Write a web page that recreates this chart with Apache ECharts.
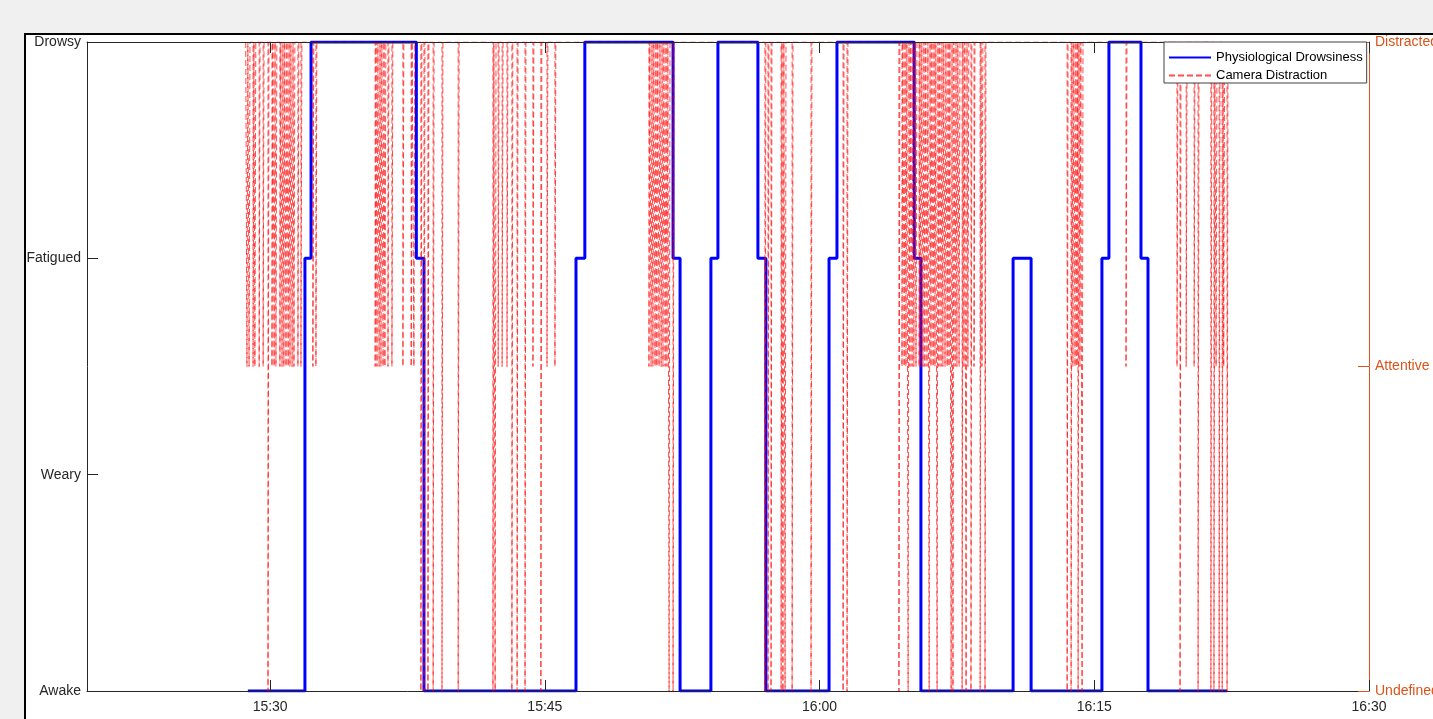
<!DOCTYPE html>
<html><head><meta charset="utf-8">
<script src="https://cdn.jsdelivr.net/npm/echarts@6/dist/echarts.min.js"></script>
<style>
html,body{margin:0;padding:0;background:#f0f0f0;overflow:hidden;}
#panel{position:absolute;left:24px;top:33px;width:1420px;height:700px;background:#fff;border-left:2px solid #000;border-top:2px solid #000;}
#chart{position:absolute;left:0;top:0;width:1433px;height:719px;}
</style></head><body>
<div id="panel"></div><div id="chart"></div>
<script>
// ---- axis ranges / tick labels ----
const xStart = '15:20', xEnd = '16:30';
const xTickLabels = ['15:30','15:45','16:00','16:15','16:30'];
const drowsyLabels = ['Awake','Weary','Fatigued','Drowsy'];
const cameraLabels = ['Undefined','Attentive','Distracted'];

// ---- Physiological Drowsiness: change points (time, new level) ----
const drowsyTimes = ['15:28:47','15:31:54','15:32:14','15:37:59','15:38:24','15:46:42','15:47:11','15:52:00','15:52:23',
  '15:54:04','15:54:27','15:56:38','15:57:04','16:00:31','16:00:57','16:05:10','16:05:32','16:10:34','16:11:33',
  '16:15:25','16:15:48','16:17:33','16:17:56','16:22:15'];
const drowsyLevels = [0,2,3,2,0,2,3,2,0, 2,3,2,0,2,3,2,0,2,0, 2,3,2,0,0];

// ---- Camera Distraction: baseline Distracted(2) with brief dips ----
const camStart = '15:28:40', camEnd = '16:22:20', camBase = 2;
const camDipSeconds = 3;
const camDipTimes = [
  // cluster ~15:29-15:32
  '15:28:44','15:28:51','15:29:04','15:29:10','15:29:24','15:29:37','15:29:53','15:30:06','15:30:13','15:30:19',
  '15:30:32','15:30:39','15:30:45','15:30:52','15:30:59','15:31:05','15:31:12','15:31:18','15:31:31','15:31:41',
  '15:32:20','15:32:30',
  // ~15:36-15:39
  '15:35:44','15:35:50','15:35:57','15:36:03','15:36:10','15:36:16','15:36:26','15:36:39','15:37:15','15:37:42',
  '15:37:51','15:38:14','15:38:24','15:38:37','15:38:54',
  // ~15:39-15:46
  '15:39:23','15:40:16','15:42:10','15:42:17','15:42:27','15:42:40','15:42:56','15:43:12','15:43:29','15:43:55',
  '15:44:21','15:44:47','15:45:07','15:45:33',
  // ~15:51
  '15:50:41','15:50:48','15:50:54','15:51:01','15:51:07','15:51:14','15:51:21','15:51:27','15:51:34','15:51:40',
  '15:51:47','15:52:00',
  // ~15:57-16:01
  '15:57:01','15:57:11','15:57:21','15:57:54','15:58:00','15:58:07','15:58:30','15:59:32','16:01:17','16:01:30',
  // ~16:04-16:09
  '16:04:20','16:04:30','16:04:37','16:04:43','16:04:50','16:04:56','16:05:03','16:05:09','16:05:16','16:05:26',
  '16:05:32','16:05:39','16:05:45','16:05:52','16:05:59','16:06:05','16:06:12','16:06:18','16:06:25','16:06:31',
  '16:06:38','16:06:44','16:06:51','16:06:58','16:07:04','16:07:11','16:07:17','16:07:24','16:07:30','16:07:37',
  '16:07:47','16:07:53','16:08:00','16:08:06','16:08:16','16:08:26','16:08:46','16:08:52','16:09:02',
  // ~16:13-16:17
  '16:13:31','16:13:44','16:13:50','16:13:57','16:14:03','16:14:07','16:14:13','16:14:20','16:16:44',
  // ~16:19-16:22
  '16:19:31','16:19:41','16:20:01','16:20:27','16:20:40','16:21:22','16:21:32','16:21:39','16:21:49','16:21:59',
  '16:22:04','16:22:15'
];
const camDipLevels = [
  1,1,1,1,1,1,0,1,1,1, 1,1,1,1,1,1,1,1,1,1, 1,1,
  1,1,1,1,1,1,1,1,1,1, 1,0,0,0,0,
  0,0,0,0,1,1,1,0,0,0, 1,0,1,1,
  1,1,1,1,1,1,1,1,1,1, 0,0,
  0,0,0,0,0,0,0,0,0,0,
  0,1,1,1,0,1,1,1,1,1, 1,1,1,1,0,1,1,1,0,1, 1,1,1,1,1,0,0,1,1,1, 0,1,0,1,0,1,0,1,0,
  0,0,1,1,1,0,1,0,1,
  1,0,1,1,0,0,0,1,0,0, 1,0
];

function toMin(s){ const p = s.split(':').map(Number); return (p[0]-15)*60 + p[1] + (p[2]||0)/60; }

const drowsyData = [];
drowsyTimes.forEach((t,i)=>{ const x = toMin(t); if(i>0) drowsyData.push([x, drowsyLevels[i-1]]); drowsyData.push([x, drowsyLevels[i]]); });

const camData = [[toMin(camStart), camBase]];
camDipTimes.forEach((t,i)=>{ const a = toMin(t), b = a + camDipSeconds/60, l = camDipLevels[i];
  camData.push([a,camBase],[a,l],[b,l],[b,camBase]); });
camData.push([toMin(camEnd), camBase]);

const xTicks = xTickLabels.map(toMin);
const axisCol = '#262626', orange = '#D95319';
const font = 'Liberation Sans, Arial, Helvetica, sans-serif';

const chart = echarts.init(document.getElementById('chart'), null, {renderer:'canvas'});
chart.setOption({
  animation:false,
  backgroundColor:'transparent',
  textStyle:{fontFamily:font},
  grid:{left:87,right:64,top:42,bottom:28,containLabel:false,outerBoundsMode:'none'},
  legend:{
    orient:'vertical', left:1164, top:42, backgroundColor:'#fff', borderColor:'#404040', borderWidth:1,
    padding:[9,4,1,4], itemGap:5, itemWidth:42, itemHeight:14, z:20,
    itemStyle:{opacity:0},
    textStyle:{fontSize:13,color:'#000',fontFamily:font},
    data:['Physiological Drowsiness','Camera Distraction']
  },
  xAxis:[
    {type:'value', position:'bottom', min:toMin(xStart), max:toMin(xEnd), z:5,
     axisLine:{show:true,onZero:false,lineStyle:{color:axisCol,width:1}},
     axisTick:{show:true,inside:true,length:11,customValues:xTicks,lineStyle:{color:axisCol}},
     axisLabel:{customValues:xTicks, formatter:v=>xTickLabels[xTicks.indexOf(v)] ?? '', color:axisCol, fontSize:14, margin:9, fontFamily:font},
     splitLine:{show:false}},
    {type:'value', position:'top', min:toMin(xStart), max:toMin(xEnd), z:5,
     axisLine:{show:true,onZero:false,lineStyle:{color:axisCol,width:1}},
     axisTick:{show:true,inside:true,length:11,customValues:xTicks,lineStyle:{color:axisCol}},
     axisLabel:{show:false}, splitLine:{show:false}}
  ],
  yAxis:[
    {type:'value', position:'left', min:0, max:3, interval:1, z:5,
     axisLine:{show:true,onZero:false,lineStyle:{color:axisCol,width:1}},
     axisTick:{show:true,inside:true,length:11,lineStyle:{color:axisCol}},
     axisLabel:{formatter:v=>drowsyLabels[v] ?? '', color:axisCol, fontSize:14, margin:6, fontFamily:font},
     splitLine:{show:false}},
    {type:'value', position:'right', min:0, max:2, interval:1, z:5,
     axisLine:{show:true,onZero:false,lineStyle:{color:orange,width:1}},
     axisTick:{show:true,inside:true,length:11,lineStyle:{color:orange}},
     axisLabel:{formatter:v=>cameraLabels[v] ?? '', color:orange, fontSize:14, margin:6, fontFamily:font},
     splitLine:{show:false}}
  ],
  series:[
    {name:'Physiological Drowsiness', type:'line', xAxisIndex:0, yAxisIndex:0, data:drowsyData,
     symbol:'none', sampling:null, lineStyle:{color:'#0000ff',width:3}, itemStyle:{color:'#0000ff'}},
    {name:'Camera Distraction', type:'line', xAxisIndex:0, yAxisIndex:1, data:camData,
     symbol:'none', lineStyle:{color:'rgba(255,0,0,0.7)',width:1,type:[6,3]}, itemStyle:{color:'rgba(255,0,0,0.7)'}}
  ]
});
</script>
</body></html>
